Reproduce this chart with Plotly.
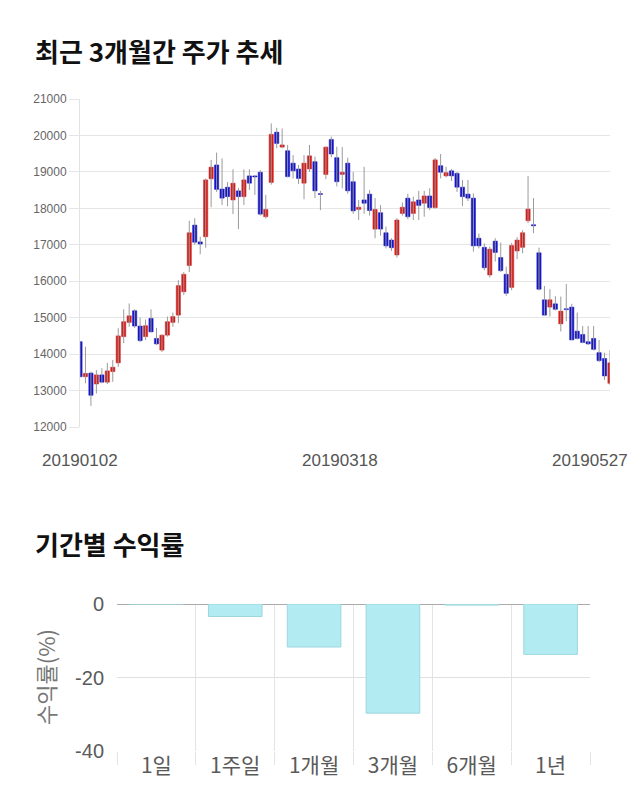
import plotly.graph_objects as go

# ---- candlestick data (98 trading days, 2019-01-02 .. 2019-05-27) ----
opens = [14340, 13380, 13480, 13180, 13430, 13230, 13520, 13760, 14480, 14870,
         15190, 14770, 14480, 14980, 14430, 14110, 14520, 14870, 15070, 15710,
         16430, 17540, 17080, 17220, 18810, 19190, 18530, 18580, 18230, 18480,
         18320, 18890, 18890, 18990, 17770, 18710, 20090, 19680, 19580, 19240,
         19080, 18690, 19080, 19280, 18400, 18930, 19890, 19390, 18930, 19240,
         18730, 17970, 18230, 18390, 17430, 17880, 17330, 17130, 16720, 17860,
         18280, 17860, 18230, 18140, 18340, 18020, 19170, 18890, 19030, 18960,
         18580, 18390, 18280, 17180, 16930, 16170, 17100, 16650, 16190, 15830,
         16830, 16930, 17660, 17550, 16780, 15490, 15290, 15380, 14830, 15240,
         15290, 14630, 14540, 14340, 14430, 14040, 13880, 13200]
highs = [14340, 14200, 13520, 13560, 13610, 13760, 13840, 14710, 15230, 15390,
         15230, 15000, 14950, 15230, 14720, 14540, 15030, 15140, 16030, 16250,
         17660, 17730, 17220, 18820, 19330, 19530, 19370, 18720, 19070, 18560,
         19070, 19070, 18900, 19050, 18370, 20330, 20210, 20190, 19740, 19460,
         19190, 19460, 19740, 19420, 18480, 19700, 19970, 19690, 19680, 19390,
         19000, 18230, 19140, 18500, 18280, 18090, 17500, 17180, 17730, 18160,
         18400, 18320, 18480, 18480, 18550, 19380, 19490, 19140, 19080, 19000,
         18780, 18780, 18410, 17310, 17040, 16950, 17180, 17060, 16400, 17050,
         17210, 17400, 18890, 18280, 16920, 15870, 15780, 15590, 15580, 15920,
         15380, 15140, 14770, 14770, 14770, 14390, 14040, 14110]
lows = [13380, 13200, 12580, 12920, 13200, 13180, 13240, 13650, 14300, 14750,
        14720, 14330, 14380, 14600, 14250, 14060, 14480, 14750, 14850, 15620,
        16250, 17000, 16740, 16920, 18030, 18450, 18090, 18060, 17840, 17430,
        18090, 18500, 18370, 17800, 17720, 18650, 19650, 19650, 18850, 18820,
        18670, 18250, 19000, 18280, 17950, 18800, 19400, 18600, 18550, 18400,
        17850, 17680, 17850, 17800, 17180, 17250, 16900, 16830, 16650, 17800,
        17700, 17680, 17680, 17770, 17950, 17990, 18820, 18850, 18750, 18450,
        18060, 18200, 16810, 16900, 16300, 16100, 16540, 16250, 15600, 15750,
        16610, 16770, 17600, 17320, 15750, 15050, 15030, 15200, 14620, 14900,
        14380, 14400, 14300, 14250, 14100, 13780, 13290, 13150]
closes = [13380, 13470, 12870, 13430, 13230, 13540, 13640, 14500, 14890, 15050,
          14770, 14370, 14780, 14610, 14280, 14520, 14890, 15030, 15880, 16190,
          17330, 17070, 17020, 18780, 19130, 18520, 18280, 18320, 18690, 18320,
          18780, 18690, 18860, 17840, 17970, 20030, 19780, 19740, 18870, 19030,
          18820, 19240, 19440, 18480, 18380, 19680, 19490, 18730, 18990, 18480,
          17930, 18030, 18140, 17940, 17970, 17430, 16970, 16920, 17680, 18030,
          17770, 18180, 18080, 18340, 18020, 19330, 18990, 18980, 18890, 18580,
          18320, 18280, 16970, 16970, 16370, 16880, 16790, 16290, 15670, 16980,
          17130, 17330, 17980, 17520, 15780, 15070, 15490, 15230, 15180, 15220,
          14390, 14430, 14320, 14280, 14130, 13820, 13400, 13760]

date_labels = ["20190102", "20190318", "20190527"]
date_label_idx = [0, 49, 97]

price_ticks = [12000, 13000, 14000, 15000, 16000, 17000, 18000, 19000, 20000, 21000]

# ---- period returns ----
periods = ["1일", "1주일", "1개월", "3개월", "6개월", "1년"]
returns = [0.0, -3.4, -11.7, -29.7, -0.3, -13.7]
return_ticks = [0, -20, -40]
return_tick_text = ["0", "-20", "-40"]

RED = "#d2201e"
BLUE = "#1616c6"
W, H = 640, 810

idx = list(range(len(opens)))
colors = [RED if c >= o else BLUE for o, c in zip(opens, closes)]
bases = [min(o, c) for o, c in zip(opens, closes)]
heights = [max(abs(c - o), 25) for o, c in zip(opens, closes)]

wx, wy = [], []
for i, lo, hi in zip(idx, lows, highs):
    wx += [i, i, None]
    wy += [lo, hi, None]

fig = go.Figure()
fig.add_trace(go.Scatter(x=wx, y=wy, mode="lines", line=dict(color="#9a9a9a", width=1),
                         hoverinfo="skip", showlegend=False, xaxis="x", yaxis="y"))
fig.add_trace(go.Bar(x=idx, y=heights, base=bases, width=0.78,
                     marker=dict(color=colors, line=dict(color=colors, width=0.5)),
                     showlegend=False, xaxis="x", yaxis="y"))

fig.add_trace(go.Bar(x=periods, y=returns, width=0.68,
                     marker=dict(color="#b2ebf2", line=dict(color="#9ed6de", width=1)),
                     showlegend=False, xaxis="x2", yaxis="y2"))

top_y0, top_y1 = 99, 427
bot_y0, bot_y1 = 604, 751

fig.update_layout(
    width=W, height=H, autosize=False,
    margin=dict(l=0, r=0, t=0, b=0, pad=0, autoexpand=False),
    paper_bgcolor="white", plot_bgcolor="white",
    font=dict(family="Noto Sans CJK KR, Liberation Sans, Arial", color="#555"),
    xaxis=dict(domain=[80 / W, 610 / W], range=[0, 97], showgrid=False, automargin=False,
               showticklabels=False, zeroline=False, showline=False, anchor="y"),
    yaxis=dict(domain=[1 - top_y1 / H, 1 - top_y0 / H], range=[12000, 21000], automargin=False,
               tickvals=price_ticks, tickformat="d", showgrid=True, gridcolor="#e6e6e6", gridwidth=1,
               ticks="outside", ticklen=10, tickcolor="#e6e6e6",
               tickfont=dict(family="Liberation Sans, Arial", size=12, color="#666"),
               showline=True, linecolor="#e2e2e2", linewidth=1, zeroline=False,
               anchor="x"),
    xaxis2=dict(domain=[117 / W, 590 / W], type="category", tickson="boundaries", automargin=False,
                showgrid=True, gridcolor="#e4e4e4", ticks="outside", ticklen=13,
                tickcolor="#e4e4e4",
                tickfont=dict(family="Noto Sans CJK KR, Liberation Sans", size=21, color="#5a5a5a"),
                showline=False, zeroline=False, anchor="y2"),
    yaxis2=dict(domain=[1 - bot_y1 / H, 1 - bot_y0 / H], range=[-40, 0], automargin=False,
                tickvals=return_ticks, ticktext=return_tick_text, showgrid=True, gridcolor="#e0e0e0",
                zeroline=True, zerolinecolor="#aaaaaa", zerolinewidth=1,
                ticks="outside", ticklen=8, tickcolor="white",
                tickfont=dict(family="Liberation Sans, Arial", size=20, color="#5a5a5a"),
                showline=False, anchor="x2"),
)

annotations = [
    dict(text="<b>최근 3개월간 주가 추세</b>", x=33 / W, y=1 - 50 / H, xref="paper", yref="paper",
         xanchor="left", yanchor="middle", showarrow=False,
         font=dict(family="Noto Sans CJK KR", size=26, color="#111")),
    dict(text="<b>기간별 수익률</b>", x=33 / W, y=1 - 543 / H, xref="paper", yref="paper",
         xanchor="left", yanchor="middle", showarrow=False,
         font=dict(family="Noto Sans CJK KR", size=26, color="#111")),
    dict(text="수익률(%)", x=45 / W, y=1 - 677 / H, xref="paper", yref="paper",
         xanchor="center", yanchor="middle", textangle=-90, showarrow=False,
         font=dict(family="Noto Sans CJK KR", size=22, color="#777")),
]
shifts = [0, -8, -20]
for lab, i, s in zip(date_labels, date_label_idx, shifts):
    annotations.append(dict(text=lab, x=i, y=1 - 460 / H, xref="x", yref="paper",
                            xanchor="center", yanchor="middle", xshift=s, showarrow=False,
                            font=dict(family="Liberation Sans, Arial", size=17, color="#555")))
fig.update_layout(annotations=annotations)

fig.write_html("out.html", config={"displayModeBar": False},
               post_script="document.body.style.margin='0';document.body.style.overflow='hidden';")
